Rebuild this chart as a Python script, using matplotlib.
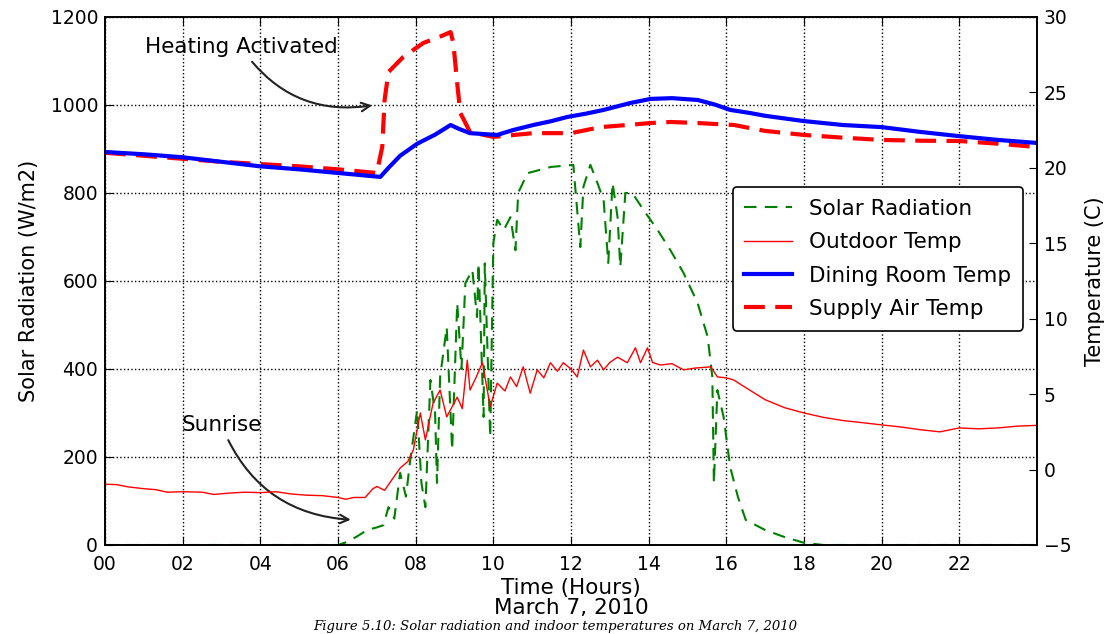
import matplotlib
matplotlib.use('Agg')
import matplotlib.pyplot as plt
from matplotlib.ticker import FixedLocator, FuncFormatter

# solar radiation (W/m2)
solar_hours = [0.0, 6.0, 6.24, 6.5, 6.75, 7.0, 7.17, 7.3, 7.45, 7.6, 7.75, 7.86, 8.04, 8.15,
               8.25, 8.38, 8.5, 8.55, 8.63, 8.8, 8.94, 9.07, 9.18, 9.28, 9.46, 9.58, 9.62,
               9.75, 9.78, 9.92, 10.0, 10.1, 10.27, 10.44, 10.57, 10.64, 10.88, 11.47, 12.06,
               12.24, 12.32, 12.5, 12.68, 12.84, 12.96, 13.07, 13.2, 13.27, 13.4, 13.58,
               13.87, 14.23, 14.56, 14.9, 15.26, 15.52, 15.64, 15.68, 15.77, 15.93, 16.1,
               16.3, 16.5, 17.0, 17.5, 18.0, 18.5, 24.0]
solar_rad = [0, 0, 7, 20, 34, 40, 45, 86, 60, 164, 110, 193, 307, 140,
             86, 375, 300, 141, 382, 495, 216, 550, 400, 595, 625, 518, 640,
             291, 640, 245, 686, 739, 716, 745, 670, 800, 845, 859, 864,
             677, 814, 864, 823, 784, 641, 823, 745, 632, 800, 800,
             761, 716, 670, 618, 550, 473, 382, 141, 352, 291, 177,
             109, 57, 34, 18, 5, 0, 0]

# outdoor air temperature (C)
outdoor_hours = [0.0, 0.3, 0.6, 1.0, 1.3, 1.6, 2.0, 2.5, 2.8, 3.2, 3.6, 4.0, 4.4, 4.8, 5.2,
                 5.6, 6.0, 6.2, 6.4, 6.7, 6.9, 7.0, 7.2, 7.4, 7.6, 7.8, 7.94, 8.12, 8.25,
                 8.45, 8.63, 8.8, 9.07, 9.2, 9.33, 9.4, 9.55, 9.72, 9.92, 10.1, 10.3, 10.44,
                 10.6, 10.77, 10.95, 11.13, 11.3, 11.47, 11.65, 11.8, 12.0, 12.16, 12.32,
                 12.5, 12.68, 12.84, 13.0, 13.2, 13.45, 13.66, 13.79, 13.97, 14.1, 14.3,
                 14.6, 14.9, 15.2, 15.6, 15.77, 16.0, 16.19, 16.6, 17.0, 17.5, 18.0, 18.5,
                 19.0, 19.5, 20.0, 20.5, 21.0, 21.5, 22.0, 22.5, 23.0, 23.5, 24.0]
outdoor_temp = [-0.97, -1.00, -1.15, -1.27, -1.33, -1.50, -1.47, -1.50, -1.65, -1.56, -1.50,
                -1.53, -1.47, -1.62, -1.70, -1.73, -1.85, -1.97, -1.85, -1.85, -1.27, -1.12,
                -1.38, -0.63, 0.10, 0.54, 1.30, 3.75, 1.97, 4.42, 5.27, 3.49, 4.80, 4.04,
                7.25, 5.27, 6.08, 7.08, 4.16, 5.73, 5.21, 6.14, 5.50, 6.81, 5.06, 6.61,
                6.08, 7.08, 6.52, 7.08, 6.67, 6.14, 7.92, 6.81, 7.25, 6.61, 7.10, 7.45,
                7.08, 8.07, 7.08, 8.07, 7.10, 6.93, 7.02, 6.61, 6.73, 6.81, 6.14, 6.08,
                5.94, 5.27, 4.63, 4.10, 3.75, 3.46, 3.25, 3.11, 2.96, 2.82, 2.64, 2.50,
                2.76, 2.70, 2.76, 2.88, 2.93]

# dining room temperature (C)
room_hours = [0, 1, 2, 3, 4, 5, 6, 7.09, 7.3, 7.6, 8.04, 8.5, 8.9, 9.1, 9.4, 10.1, 10.5,
              11.03, 11.5, 11.9, 12.4, 12.84, 13.53, 14.05, 14.6, 15.26, 15.7, 16.1, 16.6,
              17, 18, 19, 20, 21, 22, 23, 24]
room_temp = [21.05, 20.9, 20.7, 20.4, 20.1, 19.9, 19.66, 19.4, 20.0, 20.8, 21.6, 22.2,
             22.84, 22.6, 22.3, 22.18, 22.5, 22.84, 23.1, 23.37, 23.6, 23.84, 24.3, 24.57,
             24.62, 24.5, 24.2, 23.84, 23.64, 23.45, 23.1, 22.84, 22.7, 22.38, 22.1,
             21.85, 21.65]

# supply air temperature (C)
supply_hours = [0, 1, 2, 3, 4, 5, 6, 7.0, 7.14, 7.2, 7.3, 7.68, 8.2, 8.63, 8.9, 8.97, 9.07,
                9.15, 9.4, 10.0, 11.03, 12.0, 12.76, 13.5, 14.05, 14.56, 15.26, 16.2, 16.6,
                17, 18, 19, 20, 21, 22, 23, 24]
supply_temp = [21.0, 20.8, 20.6, 20.4, 20.25, 20.1, 19.9, 19.66, 21.4, 24.5, 26.35, 27.35,
               28.28, 28.7, 29.0, 28.28, 25.6, 23.64, 22.38, 22.05, 22.3, 22.3, 22.7, 22.85,
               22.97, 23.04, 22.97, 22.84, 22.64, 22.45, 22.18, 22.0, 21.85, 21.8, 21.78,
               21.6, 21.38]

hour_ticks = list(range(0, 24, 2))
fs_tick = 13.5
fs_text = 15.5
fs_ylab = 15

fig = plt.figure(figsize=(11.1, 6.34), dpi=100)
ax = fig.add_axes([0.0946, 0.1404, 0.8396, 0.8328])
ax2 = ax.twinx()

l1, = ax.plot(solar_hours, solar_rad, color='#008000', lw=1.5, ls=(0, (6, 4)),
              label='Solar Radiation')
l2, = ax2.plot(outdoor_hours, outdoor_temp, color='#ff0000', lw=1.0, label='Outdoor Temp')
l4, = ax2.plot(supply_hours, supply_temp, color='#ff0000', lw=3, ls=(0, (5, 2.5)),
               label='Supply Air Temp')
l3, = ax2.plot(room_hours, room_temp, color='#0000ff', lw=3, label='Dining Room Temp')

ax.set_xlim(0, 24)
ax.set_ylim(0, 1200)
ax2.set_ylim(-5, 30)
ax.xaxis.set_major_locator(FixedLocator(hour_ticks))
ax.xaxis.set_major_formatter(FuncFormatter(lambda v, p: '%02d' % v))

ax.grid(True, linestyle=':', color='k', lw=1)
ax.tick_params(direction='in', top=True, labelsize=fs_tick, length=6)
ax.tick_params(axis='x', pad=7)
ax.tick_params(axis='y', pad=5)
ax2.tick_params(direction='in', labelsize=fs_tick, length=6, pad=5)
for a in (ax, ax2):
    for s in a.spines.values():
        s.set_linewidth(1.2)

ax.set_xlabel('Time (Hours)\nMarch 7, 2010', fontsize=fs_text, labelpad=3,
              linespacing=1.0)
ax.set_ylabel('Solar Radiation (W/m2)', fontsize=fs_ylab, labelpad=8)
ax2.set_ylabel('Temperature (C)', fontsize=fs_ylab, labelpad=10)

arrow = dict(arrowstyle='->', connectionstyle='arc3,rad=0.32', color='#222222', lw=1.5)
ax.annotate('Heating Activated', xy=(6.95, 1000), xytext=(3.5, 1132), fontsize=fs_text,
            ha='center', va='center', arrowprops=arrow)
ax.annotate('Sunrise', xy=(6.4, 57), xytext=(3.0, 273), fontsize=fs_text,
            ha='center', va='center', arrowprops=arrow)

leg = ax2.legend([l1, l2, l3, l4], [h.get_label() for h in (l1, l2, l3, l4)],
                 loc='upper right', bbox_to_anchor=(0.985, 0.678), borderaxespad=0,
                 fontsize=fs_text, fancybox=True, framealpha=1, edgecolor='k',
                 labelspacing=0.62, borderpad=0.55, handlelength=2.2)
leg.get_frame().set_linewidth(1.2)

fig.text(0.5, 0.002, 'Figure 5.10: Solar radiation and indoor temperatures on March 7, 2010',
         ha='center', va='bottom', fontsize=9.5, family='DejaVu Serif', style='italic')

fig.savefig('out.png', dpi=100)
